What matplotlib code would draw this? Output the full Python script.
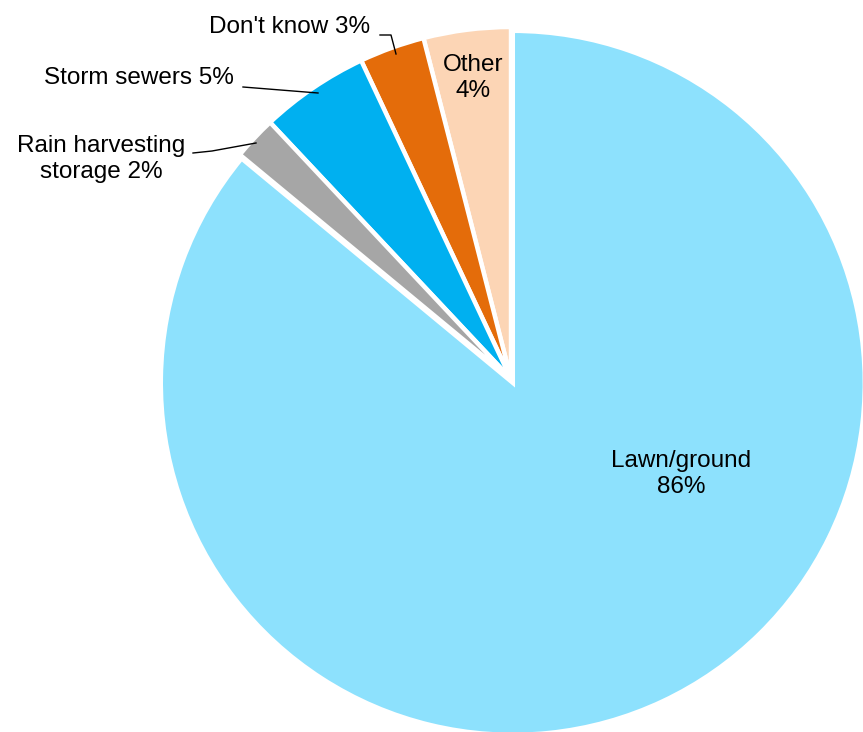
import matplotlib
matplotlib.use("Agg")
import matplotlib.pyplot as plt

categories = ["Other", "Don't know", "Storm sewers", "Rain harvesting\nstorage", "Lawn/ground"]
values = [4, 3, 5, 2, 86]
colors = ["#FCD5B5", "#E46C0A", "#00B0F0", "#A6A6A6", "#8DE1FD"]
explode = [0, 0, 0, 0, 0.012]

plt.rcParams['font.family'] = ['Liberation Sans', 'DejaVu Sans']

S = 352.0   # pixels per data unit
CX, CY = 511, 379

fig = plt.figure(figsize=(8.63, 7.32), dpi=100)
ax = fig.add_axes([0, 0, 1, 1])

wedges, _ = ax.pie(values, colors=colors, startangle=90, counterclock=True,
                   explode=explode, radius=1.0,
                   wedgeprops=dict(edgecolor='white', linewidth=3.2, joinstyle='miter'))
ax.set_aspect('auto')
ax.set_xlim(-CX / S, (863 - CX) / S)
ax.set_ylim(-(732 - CY) / S, CY / S)
ax.axis('off')

def px(x, y):
    return ((x - CX) / S, (CY - y) / S)

fs = 17.5
ls = 1.25
# inside labels
ax.text(*px(473, 78), f"{categories[0]}\n{values[0]}%", ha='center', va='center', fontsize=fs, linespacing=ls)
ax.text(*px(681, 474), f"{categories[4]}\n{values[4]}%", ha='center', va='center', fontsize=fs, linespacing=ls)

# outside labels with leader lines
ax.text(*px(290, 27), f"{categories[1]} {values[1]}%", ha='center', va='center', fontsize=fs)
ax.plot(*zip(px(380, 35), px(391, 35), px(396, 54)), color='black', lw=1)

ax.text(*px(139, 78), f"{categories[2]} {values[2]}%", ha='center', va='center', fontsize=fs)
ax.plot(*zip(px(243, 87), px(318, 93)), color='black', lw=1)

ax.text(*px(101, 159), "Rain harvesting\nstorage 2%", ha='center', va='center', fontsize=fs, linespacing=ls)
ax.plot(*zip(px(193, 153), px(212, 151), px(256, 143)), color='black', lw=1)

fig.savefig("out.png", dpi=100)
